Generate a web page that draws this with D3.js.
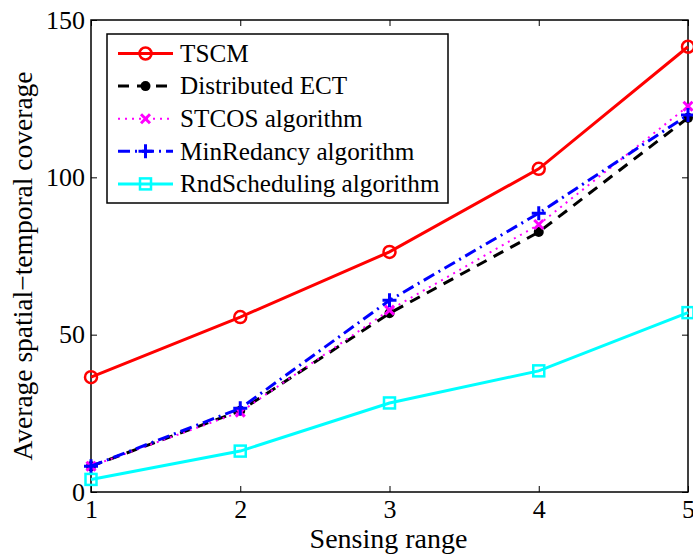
<!DOCTYPE html>
<html><head><meta charset="utf-8">
<script src="https://cdn.jsdelivr.net/npm/d3@7"></script>
<style>body{margin:0;background:#fff}</style>
</head><body>
<svg id="c" width="693" height="555"></svg>
<script>
const sensingRange = [1, 2, 3, 4, 5];
const tscm = [36.5, 55.6, 76.3, 102.7, 141.5];
const distributedECT = [8.2, 25.8, 56.8, 82.6, 118.9];
const stcos = [8.2, 25.4, 57.8, 85.0, 122.6];
const minRedancy = [8.2, 26.6, 60.9, 88.6, 119.8];
const rndScheduling = [4.0, 13.0, 28.3, 38.5, 57.0];
const xTicks = [1, 2, 3, 4, 5];
const yTicks = [0, 50, 100, 150];

const series = [
  {name: "TSCM", values: tscm, color: "#ff0000", dash: null, marker: "circle"},
  {name: "Distributed ECT", values: distributedECT, color: "#000000", dash: "11,8", marker: "dot"},
  {name: "STCOS algorithm", values: stcos, color: "#ff00ff", dash: "2,5", marker: "x"},
  {name: "MinRedancy algorithm", values: minRedancy, color: "#0000ff", dash: "12,5,2,5", marker: "plus"},
  {name: "RndScheduling algorithm", values: rndScheduling, color: "#00ffff", dash: null, marker: "square"}
];

const FONT = '"Liberation Serif"';
const m = {left: 91, top: 20, right: 688, bottom: 492};
const svg = d3.select("#c");
const x = d3.scaleLinear().domain([1, 5]).range([m.left, m.right]);
const y = d3.scaleLinear().domain([0, 150]).range([m.bottom, m.top]);

svg.append("rect").attr("x", m.left).attr("y", m.top).attr("width", m.right - m.left).attr("height", m.bottom - m.top)
  .attr("fill", "none").attr("stroke", "#000").attr("stroke-width", 1.5);

const fs = 26;
const tl = 6;
const xb = svg.append("g").attr("transform", `translate(0,${m.bottom})`)
  .call(d3.axisBottom(x).tickValues(xTicks).tickSize(-tl).tickPadding(8).tickFormat(d3.format("d")));
const xt = svg.append("g").attr("transform", `translate(0,${m.top})`)
  .call(d3.axisTop(x).tickValues(xTicks).tickSize(-tl).tickFormat(""));
const yl = svg.append("g").attr("transform", `translate(${m.left},0)`)
  .call(d3.axisLeft(y).tickValues(yTicks).tickSize(-tl).tickPadding(6).tickFormat(d3.format("d")));
const yr = svg.append("g").attr("transform", `translate(${m.right},0)`)
  .call(d3.axisRight(y).tickValues(yTicks).tickSize(-tl).tickFormat(""));
[xb, xt, yl, yr].forEach(g => {
  g.select(".domain").remove();
  g.style("font-family", FONT);
  g.selectAll("line").attr("stroke", "#000").attr("stroke-width", 1);
  g.selectAll("text").attr("font-size", fs).style("font-family", FONT).attr("fill", "#000");
});
xb.selectAll("text").attr("dy", "0.71em");

svg.append("text").attr("x", 388.5).attr("y", 548).attr("text-anchor", "middle")
  .style("font-family", FONT).attr("font-size", 28).text("Sensing range");
svg.append("text").attr("transform", `translate(32,266) rotate(-90)`)
  .attr("text-anchor", "middle").style("font-family", FONT).attr("font-size", 27.5).text("Average spatial\u2212temporal coverage");

function drawMarker(g, type, color, cx, cy) {
  if (type === "circle") {
    g.append("circle").attr("cx", cx).attr("cy", cy).attr("r", 6).attr("fill", "none").attr("stroke", color).attr("stroke-width", 2.5);
  } else if (type === "dot") {
    g.append("circle").attr("cx", cx).attr("cy", cy).attr("r", 5).attr("fill", color);
  } else if (type === "x") {
    const s = 4.5;
    g.append("path").attr("d", `M${cx - s},${cy - s}L${cx + s},${cy + s}M${cx - s},${cy + s}L${cx + s},${cy - s}`)
      .attr("stroke", color).attr("stroke-width", 3);
  } else if (type === "plus") {
    const s = 7;
    g.append("path").attr("d", `M${cx - s},${cy}L${cx + s},${cy}M${cx},${cy - s}L${cx},${cy + s}`)
      .attr("stroke", color).attr("stroke-width", 3);
  } else if (type === "square") {
    g.append("rect").attr("x", cx - 5.5).attr("y", cy - 5.5).attr("width", 11).attr("height", 11)
      .attr("fill", "none").attr("stroke", color).attr("stroke-width", 2.5);
  }
}

const line = d3.line().x((d, i) => x(sensingRange[i])).y(d => y(d));
const plot = svg.append("g");
series.forEach(s => {
  const p = plot.append("path").attr("d", line(s.values)).attr("fill", "none")
    .attr("stroke", s.color).attr("stroke-width", s.marker === "x" ? 2 : 3);
  if (s.dash) p.attr("stroke-dasharray", s.dash);
  s.values.forEach((v, i) => drawMarker(plot, s.marker, s.color, x(sensingRange[i]), y(v)));
});

const lg = svg.append("g");
lg.append("rect").attr("x", 107).attr("y", 34).attr("width", 341).attr("height", 169)
  .attr("fill", "#fff").attr("stroke", "#000").attr("stroke-width", 1.5);
series.forEach((s, i) => {
  const cy = 53.5 + i * 32.6;
  const p = lg.append("path").attr("d", `M118,${cy}L173,${cy}`).attr("stroke", s.color)
    .attr("stroke-width", s.marker === "x" ? 2 : 3);
  if (s.dash) p.attr("stroke-dasharray", s.dash);
  drawMarker(lg, s.marker, s.color, 145.5, cy);
  lg.append("text").attr("x", 180).attr("y", cy).attr("dy", "0.33em").style("font-family", FONT)
    .attr("font-size", 25.2).attr("fill", "#000").text(s.name);
});
</script>
</body></html>
